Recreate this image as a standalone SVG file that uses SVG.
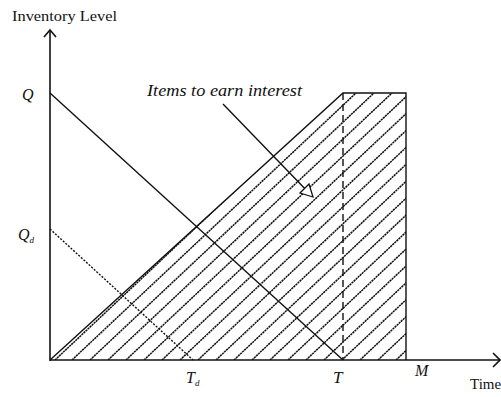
<svg xmlns="http://www.w3.org/2000/svg" width="501" height="397" viewBox="0 0 501 397">
<style>
text{font-family:"Liberation Serif","DejaVu Serif",serif;fill:#111}
.it{font-style:italic}
.ax{stroke:#111;stroke-width:1.6;fill:none}
.ln{stroke:#111;stroke-width:1.4;fill:none}
.hatch{stroke:#111;stroke-width:1.5;stroke-dasharray:2.2 0.6}
</style>
<defs>
<clipPath id="reg"><polygon points="50,360 343,93 406,93 406,360"/></clipPath>
</defs>
<rect width="501" height="397" fill="#fff"/>
<g id="hatching" clip-path="url(#reg)">
<line class="hatch" x1="55" y1="360" x2="341" y2="91"/>
<line class="hatch" x1="72" y1="360" x2="356" y2="93"/>
<line class="hatch" x1="90" y1="360" x2="374" y2="93"/>
<line class="hatch" x1="108" y1="360" x2="392" y2="93"/>
<line class="hatch" x1="126" y1="360" x2="410" y2="93"/>
<line class="hatch" x1="144" y1="360" x2="428" y2="93"/>
<line class="hatch" x1="162" y1="360" x2="446" y2="93"/>
<line class="hatch" x1="180" y1="360" x2="464" y2="93"/>
<line class="hatch" x1="198" y1="360" x2="482" y2="93"/>
<line class="hatch" x1="216" y1="360" x2="500" y2="93"/>
<line class="hatch" x1="234" y1="360" x2="518" y2="93"/>
<line class="hatch" x1="252" y1="360" x2="536" y2="93"/>
<line class="hatch" x1="270" y1="360" x2="554" y2="93"/>
<line class="hatch" x1="288" y1="360" x2="572" y2="93"/>
<line class="hatch" x1="306" y1="360" x2="590" y2="93"/>
<line class="hatch" x1="324" y1="360" x2="608" y2="93"/>
<line class="hatch" x1="342" y1="360" x2="626" y2="93"/>
<line class="hatch" x1="360" y1="360" x2="644" y2="93"/>
<line class="hatch" x1="378" y1="360" x2="662" y2="93"/>
<line class="hatch" x1="396" y1="360" x2="680" y2="93"/>
</g>
<g id="connectors">
<polyline class="ln" points="50,360 343,93 406,93 406,360"/>
<line class="ln" x1="50" y1="93" x2="343" y2="360"/>
<line x1="50" y1="229" x2="193" y2="360" stroke="#111" stroke-width="1.4" stroke-dasharray="2 1.5"/>
<line x1="343" y1="93" x2="343" y2="360" stroke="#111" stroke-width="1.4" stroke-dasharray="7 4"/>
<line class="ln" x1="223" y1="104" x2="311" y2="195"/>
<polygon points="313,197 300,193 309,184" fill="#fff" stroke="#111" stroke-width="1.3"/>
</g>
<g id="axes">
<line class="ax" x1="50" y1="361" x2="50" y2="30"/>
<polyline class="ax" points="44,37 50,30 56,37"/>
<line class="ax" x1="50" y1="360" x2="499" y2="360"/>
<polyline class="ax" points="493,353 500,360 493,367"/>
</g>
<g id="labels">
<text x="12" y="21" font-size="15" textLength="105" lengthAdjust="spacingAndGlyphs">Inventory Level</text>
<text class="it" x="22" y="100" font-size="16">Q</text>
<text class="it" x="18" y="240" font-size="16">Q<tspan font-size="9" dy="3">d</tspan></text>
<text class="it" x="186" y="383" font-size="16">T<tspan font-size="9" dy="3">d</tspan></text>
<text class="it" x="333" y="383" font-size="17">T</text>
<text class="it" x="415" y="376" font-size="16">M</text>
<text x="470" y="389" font-size="15">Time</text>
<text class="it" x="147" y="96" font-size="17.5" textLength="155" lengthAdjust="spacingAndGlyphs">Items to earn interest</text>
</g>
</svg>
